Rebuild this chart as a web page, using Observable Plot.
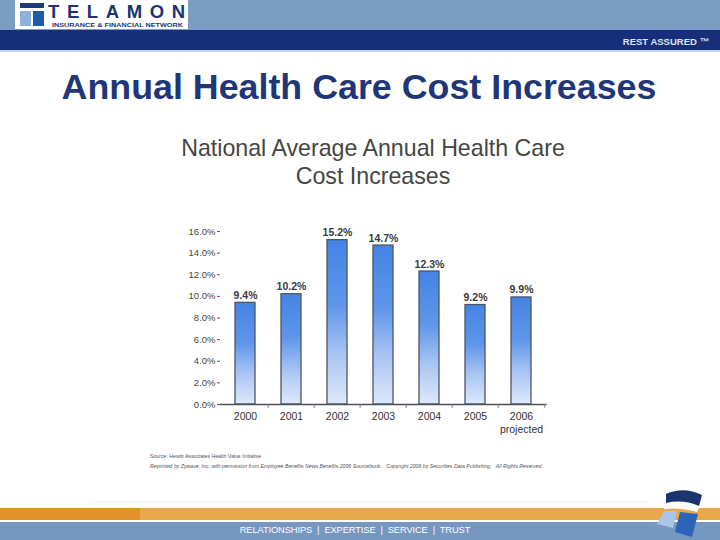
<!DOCTYPE html>
<html>
<head>
<meta charset="utf-8">
<script src="https://cdn.jsdelivr.net/npm/d3@7"></script>
<script src="https://cdn.jsdelivr.net/npm/@observablehq/plot@0.6"></script>
<style>
  html, body { margin: 0; padding: 0; background: #fff; }
  #page { position: relative; width: 720px; height: 540px; overflow: hidden; font-family: "Liberation Sans", Arial, sans-serif; }
  .abs { position: absolute; }
  #topband { left: 0; top: 0; width: 720px; height: 30px; background: #7b9cc3; }
  #navy { left: 0; top: 30px; width: 720px; height: 20px; background: #172f7a; }
  #navyline { left: 0; top: 50px; width: 720px; height: 2px; background: #c9d8ec; }
  #logobox { left: 15px; top: 0; width: 173px; height: 29px; background: #fff; }
  #rest { right: 11px; top: 36px; color: #dfe3ee; font-size: 9.5px; font-weight: bold; }
  #title { left: 0; width: 718px; top: 67px; text-align: center; font-size: 35.8px; font-weight: bold; color: #1f3679; white-space: nowrap; }
  #subtitle { left: 0; width: 746px; top: 134px; text-align: center; font-size: 23.2px; color: #454545; line-height: 28px; }
  #chart { left: 0; top: 215px; }
  #src1 { left: 150px; top: 453px; font-size: 5.2px; color: #555; }
  #src2 { left: 150px; top: 463px; font-size: 5.2px; color: #555; font-style: italic; }
  #orangeL { left: 0; top: 508px; width: 140px; height: 12px; background: #e2922a; }
  #orange { left: 140px; top: 508px; width: 580px; height: 12px; background: #e9a94a; }
  #whiteline { left: 0; top: 520px; width: 720px; height: 2px; background: #fff; }
  #bottom { left: 0; top: 522px; width: 720px; height: 18px; background: #7697bf; }
  #motto { left: 0; width: 710px; top: 524.5px; text-align: center; color: #fff; font-size: 9.3px; letter-spacing: -0.1px; }
  #footline { left: 90px; top: 502px; width: 560px; height: 1px; background: #eef0f4; }
</style>
</head>
<body>
<div id="page">
  <div class="abs" id="topband"></div>
  <div class="abs" id="navy"></div>
  <div class="abs" id="navyline"></div>
  <div class="abs" id="logobox">
    <svg width="173" height="29">
      <rect x="5" y="3" width="24" height="5" fill="#1a3a7c"/>
      <rect x="5" y="11" width="11" height="15" fill="#8fb0da"/>
      <rect x="18" y="11" width="11" height="15" fill="#1d5aa8"/>
      <text x="33" y="18" font-family="Liberation Sans, Arial" font-weight="bold" font-size="18.5" textLength="137" lengthAdjust="spacing" fill="#1a3474">TELAMON</text>
      <text x="37" y="26.8" font-family="Liberation Sans, Arial" font-weight="bold" font-size="6" textLength="131" lengthAdjust="spacingAndGlyphs" fill="#1a3474">INSURANCE &amp; FINANCIAL NETWORK</text>
    </svg>
  </div>
  <div class="abs" id="rest">REST ASSURED ™</div>
  <div class="abs" id="title">Annual Health Care Cost Increases</div>
  <div class="abs" id="subtitle">National Average Annual Health Care<br>Cost Increases</div>
  <div class="abs" id="chart"></div>
  <div class="abs" id="src1">Source: Hewitt Associates Health Value Initiative</div>
  <div class="abs" id="src2">Reprinted by Zywave, Inc. with permission from Employee Benefits News Benefits 2006 Sourcebook.&nbsp;&nbsp; Copyright 2006 by Securities Data Publishing.&nbsp;&nbsp; All Rights Reserved.</div>
  <div class="abs" id="footline"></div>
  <div class="abs" id="orangeL"></div>
  <div class="abs" id="orange"></div>
  <div class="abs" id="whiteline"></div>
  <div class="abs" id="bottom"></div>
  <div class="abs" id="motto">RELATIONSHIPS &nbsp;|&nbsp; EXPERTISE &nbsp;|&nbsp; SERVICE &nbsp;|&nbsp; TRUST</div>
  <div class="abs" style="left:652px;top:487px;">
    <svg width="60" height="52">
      <path d="M14 7 Q32 -1 50 8 L47 19 Q31 12 14 16 Z" fill="#1c3470"/>
      <path d="M12 18 Q31 14 47 21 L45 25 Q29 20 12 22 Z" fill="#ffffff"/>
      <path d="M12 24 L25 24 L21 41 L5 37 Z" fill="#a9c6ea"/>
      <path d="M28 25 L46 27 L40 50 L23 45 Z" fill="#2b64b8"/>
    </svg>
  </div>
</div>
<script>
const years = ["2000", "2001", "2002", "2003", "2004", "2005", "2006"];
const values = [9.4, 10.2, 15.2, 14.7, 12.3, 9.2, 9.9];
const valueLabels = ["9.4%", "10.2%", "15.2%", "14.7%", "12.3%", "9.2%", "9.9%"];
const yTicks = [0, 2, 4, 6, 8, 10, 12, 14, 16];
const xTickLabels = ["2000", "2001", "2002", "2003", "2004", "2005", "2006\nprojected"];

const data = years.map((y, i) => ({year: y, value: values[i], label: valueLabels[i]}));

const defs = () => {
  const g = d3.create("svg:defs");
  const lg = g.append("linearGradient").attr("id", "barGrad").attr("x1", 0).attr("y1", 0).attr("x2", 0).attr("y2", 1);
  lg.append("stop").attr("offset", "0%").attr("stop-color", "#4484e3");
  lg.append("stop").attr("offset", "40%").attr("stop-color", "#5f96ea");
  lg.append("stop").attr("offset", "70%").attr("stop-color", "#a9c5f3");
  lg.append("stop").attr("offset", "100%").attr("stop-color", "#dde8fb");
  return g.node();
};

const W = 720, H = 230;
const chart = Plot.plot({
  width: W,
  height: H,
  marginLeft: 220,
  marginRight: 173.33,
  marginTop: 16,
  marginBottom: 41,
  style: {fontFamily: "Liberation Sans, Arial, sans-serif", fontSize: "10px", color: "#444", background: "transparent"},
  x: {domain: years, padding: 0.5714, paddingOuter: 0.2857, label: null},
  y: {domain: [0, 16], label: null},
  marks: [
    defs,
    Plot.barY(data, {x: "year", y: "value", fill: "url(#barGrad)", stroke: "#4c5568", strokeWidth: 1.3}),
    Plot.ruleY([0], {stroke: "#4a4f5a", strokeWidth: 1.6}),
    Plot.ruleX(years.slice(1), {x: d => d, dx: -23.33, y1: 0, y2: -0.35, stroke: "#777"}),
    Plot.ruleX(years.slice(-1), {x: d => d, dx: 23.33, y1: 0, y2: -0.35, stroke: "#777"}),
    Plot.axisY({ticks: yTicks, tickFormat: d => d.toFixed(1) + "%", tickSize: 3, tickPadding: 2, fontSize: 9.5, stroke: "#555"}),
    Plot.axisX({tickSize: 0, tickPadding: 7, fontSize: 10.5, tickFormat: (d, i) => xTickLabels[years.indexOf(d)], lineHeight: 1.2, fill: "#333"}),
    Plot.text(data, {x: "year", y: "value", text: "label", lineAnchor: "bottom", dy: -4, fontSize: 10.5, fontWeight: "bold", fill: "#3a3a3a"})
  ]
});
document.getElementById("chart").appendChild(chart);
</script>
</body>
</html>
